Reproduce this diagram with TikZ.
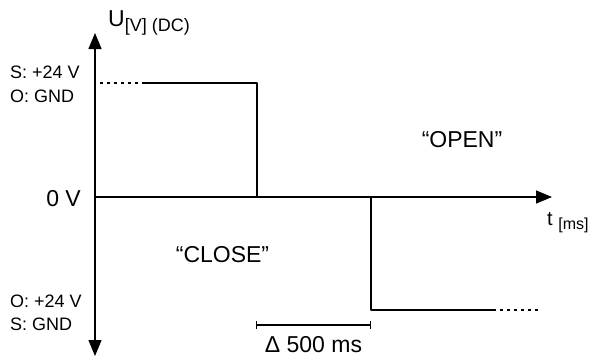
\documentclass[tikz,border=0pt]{standalone}
\usepackage{fontspec}
\setmainfont{Liberation Sans}
\usetikzlibrary{arrows.meta}

\begin{document}
\begin{tikzpicture}[line cap=round,line join=round,>={Triangle[length=16pt,width=13pt]},x=1pt,y=1pt]
		\useasboundingbox (-95.,-160.) rectangle (499.,197.);
		\tikzset{lbl/.style={inner sep=0pt,font=\fontsize{23}{27}\selectfont},
			side/.style={inner sep=0pt,anchor=base west,font=\fontsize{18}{21}\selectfont},
			dots/.style={line width=1.4pt,line cap=butt,dash pattern=on 2.5pt off 4.5pt}}
		\draw [line width=1.4pt,<->] (0.,-159.) -- (0.,164.);
		\draw [line width=1.4pt,->] (0.,0.) -- (457.,0.);
		\draw [dots] (5.,114.) -- (48.,114.);
		\draw [line width=1.4pt] (48.,114.) -- (162.,114.) -- (162.,0.);
		\draw [line width=1.4pt] (276.,0.) -- (276.,-113.) -- (398.,-113.);
		\draw [dots] (398.,-113.) -- (447.,-113.);
		\draw [line width=1.1pt,{Bar[width=8pt]}-{Bar[width=8pt]}] (161.,-128.) -- (276.,-128.);
		\begin{scriptsize}
			\node[lbl,anchor=base west] (uaxis) at (13.,171.) {U\raisebox{-5pt}{\fontsize{18}{21}\selectfont[V] (DC)}};
			\node[lbl,anchor=base west,font=\fontsize{20}{24}\selectfont] (taxis) at (452.,-28.) {t \raisebox{-4.5pt}{\fontsize{16}{19}\selectfont[ms]}};
			\node[side] (supS) at (-85.,119.) {S: +24 V};
			\node[side] (supO) at (-85.,95.) {O: GND};
			\node[side] (infO) at (-85.,-110.) {O: +24 V};
			\node[side] (infS) at (-85.,-133.) {S: GND};
			\node[lbl,anchor=east] (zero) at (-14.,-1.5) {0 V};
			\node[lbl] (open) at (367.,57.) {“OPEN”};
			\node[lbl] (close) at (127.5,-58.) {“CLOSE”};
			\node[lbl,anchor=base] (delta) at (218.5,-155.5) {Δ 500 ms};
		\end{scriptsize}
	\end{tikzpicture}
\end{document}
